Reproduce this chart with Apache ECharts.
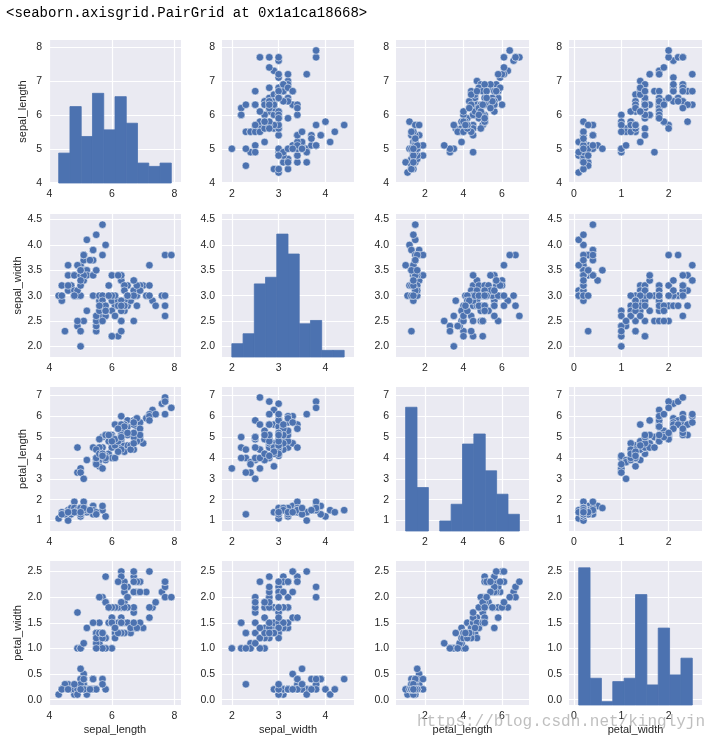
<!DOCTYPE html>
<html><head><meta charset="utf-8">
<script src="https://cdn.jsdelivr.net/npm/echarts@6/dist/echarts.min.js"></script>
<style>html,body{margin:0;padding:0;background:#fff}#c{width:721px;height:744px}</style>
</head><body><div id="c"></div>
<script>
const varNames = ['sepal_length','sepal_width','petal_length','petal_width'];

const sepal_length = [5.1,4.9,4.7,4.6,5.0,5.4,4.6,5.0,4.4,4.9,5.4,4.8,4.8,4.3,5.8,5.7,5.4,5.1,5.7,5.1,5.4,5.1,4.6,5.1,4.8,5.0,5.0,5.2,5.2,4.7,4.8,5.4,5.2,5.5,4.9,5.0,5.5,4.9,4.4,5.1,5.0,4.5,4.4,5.0,5.1,4.8,5.1,4.6,5.3,5.0,
7.0,6.4,6.9,5.5,6.5,5.7,6.3,4.9,6.6,5.2,5.0,5.9,6.0,6.1,5.6,6.7,5.6,5.8,6.2,5.6,5.9,6.1,6.3,6.1,6.4,6.6,6.8,6.7,6.0,5.7,5.5,5.5,5.8,6.0,5.4,6.0,6.7,6.3,5.6,5.5,5.5,6.1,5.8,5.0,5.6,5.7,5.7,6.2,5.1,5.7,
6.3,5.8,7.1,6.3,6.5,7.6,4.9,7.3,6.7,7.2,6.5,6.4,6.8,5.7,5.8,6.4,6.5,7.7,7.7,6.0,6.9,5.6,7.7,6.3,6.7,7.2,6.2,6.1,6.4,7.2,7.4,7.9,6.4,6.3,6.1,7.7,6.3,6.4,6.0,6.9,6.7,6.9,5.8,6.8,6.7,6.7,6.3,6.5,6.2,5.9];
const sepal_width = [3.5,3.0,3.2,3.1,3.6,3.9,3.4,3.4,2.9,3.1,3.7,3.4,3.0,3.0,4.0,4.4,3.9,3.5,3.8,3.8,3.4,3.7,3.6,3.3,3.4,3.0,3.4,3.5,3.4,3.2,3.1,3.4,4.1,4.2,3.1,3.2,3.5,3.6,3.0,3.4,3.5,2.3,3.2,3.5,3.8,3.0,3.8,3.2,3.7,3.3,
3.2,3.2,3.1,2.3,2.8,2.8,3.3,2.4,2.9,2.7,2.0,3.0,2.2,2.9,2.9,3.1,3.0,2.7,2.2,2.5,3.2,2.8,2.5,2.8,2.9,3.0,2.8,3.0,2.9,2.6,2.4,2.4,2.7,2.7,3.0,3.4,3.1,2.3,3.0,2.5,2.6,3.0,2.6,2.3,2.7,3.0,2.9,2.9,2.5,2.8,
3.3,2.7,3.0,2.9,3.0,3.0,2.5,2.9,2.5,3.6,3.2,2.7,3.0,2.5,2.8,3.2,3.0,3.8,2.6,2.2,3.2,2.8,2.8,2.7,3.3,3.2,2.8,3.0,2.8,3.0,2.8,3.8,2.8,2.8,2.6,3.0,3.4,3.1,3.0,3.1,3.1,3.1,2.7,3.2,3.3,3.0,2.5,3.0,3.4,3.0];
const petal_length = [1.4,1.4,1.3,1.5,1.4,1.7,1.4,1.5,1.4,1.5,1.5,1.6,1.4,1.1,1.2,1.5,1.3,1.4,1.7,1.5,1.7,1.5,1.0,1.7,1.9,1.6,1.6,1.5,1.4,1.6,1.6,1.5,1.5,1.4,1.5,1.2,1.3,1.4,1.3,1.5,1.3,1.3,1.3,1.6,1.9,1.4,1.6,1.4,1.5,1.4,
4.7,4.5,4.9,4.0,4.6,4.5,4.7,3.3,4.6,3.9,3.5,4.2,4.0,4.7,3.6,4.4,4.5,4.1,4.5,3.9,4.8,4.0,4.9,4.7,4.3,4.4,4.8,5.0,4.5,3.5,3.8,3.7,3.9,5.1,4.5,4.5,4.7,4.4,4.1,4.0,4.4,4.6,4.0,3.3,4.2,4.2,4.2,4.3,3.0,4.1,
6.0,5.1,5.9,5.6,5.8,6.6,4.5,6.3,5.8,6.1,5.1,5.3,5.5,5.0,5.1,5.3,5.5,6.7,6.9,5.0,5.7,4.9,6.7,4.9,5.7,6.0,4.8,4.9,5.6,5.8,6.1,6.4,5.6,5.1,5.6,6.1,5.6,5.5,4.8,5.4,5.6,5.1,5.1,5.9,5.7,5.2,5.0,5.2,5.4,5.1];
const petal_width = [0.2,0.2,0.2,0.2,0.2,0.4,0.3,0.2,0.2,0.1,0.2,0.2,0.1,0.1,0.2,0.4,0.4,0.3,0.3,0.3,0.2,0.4,0.2,0.5,0.2,0.2,0.4,0.2,0.2,0.2,0.2,0.4,0.1,0.2,0.2,0.2,0.2,0.1,0.2,0.2,0.3,0.3,0.2,0.6,0.4,0.3,0.2,0.2,0.2,0.2,
1.4,1.5,1.5,1.3,1.5,1.3,1.6,1.0,1.3,1.4,1.0,1.5,1.0,1.4,1.3,1.4,1.5,1.0,1.5,1.1,1.8,1.3,1.5,1.2,1.3,1.4,1.4,1.7,1.5,1.0,1.1,1.0,1.2,1.6,1.5,1.6,1.5,1.3,1.3,1.3,1.2,1.4,1.2,1.0,1.3,1.2,1.3,1.3,1.1,1.3,
2.5,1.9,2.1,1.8,2.2,2.1,1.7,1.8,1.8,2.5,2.0,1.9,2.1,2.0,2.4,2.3,1.8,2.2,2.3,1.5,2.3,2.0,2.0,1.8,2.1,1.8,1.8,1.8,2.1,1.6,1.9,2.0,2.2,1.5,1.4,2.3,2.4,1.8,1.8,2.1,2.4,2.3,1.9,2.3,2.5,2.3,1.9,2.0,2.3,1.8];

// histogram counts (10 equal bins from min to max)
const hist_sepal_length = [9,23,14,27,16,26,18,6,5,6];
const hist_sepal_width  = [4,7,22,24,37,31,10,11,2,2];
const hist_petal_length = [37,13,0,3,8,26,29,18,11,5];
const hist_petal_width  = [41,8,1,7,8,33,6,23,9,14];

// tick labels
const xTicks_sepal_length = [4,6,8];
const yTicks_sepal_length = [4,5,6,7,8];
const xTicks_sepal_width = [2,3,4];
const yTicks_sepal_width = [2.0,2.5,3.0,3.5,4.0,4.5];
const xTicks_petal_length = [2,4,6];
const yTicks_petal_length = [1,2,3,4,5,6,7];
const xTicks_petal_width = [0,1,2];
const yTicks_petal_width = [0.0,0.5,1.0,1.5,2.0,2.5];

const values = [sepal_length, sepal_width, petal_length, petal_width];
const hists = [hist_sepal_length, hist_sepal_width, hist_petal_length, hist_petal_width];
const xTicks = [xTicks_sepal_length, xTicks_sepal_width, xTicks_petal_length, xTicks_petal_width];
const yTicks = [yTicks_sepal_length, yTicks_sepal_width, yTicks_petal_length, yTicks_petal_width];
const yDec = [0,1,0,1];

// layout / style
const limits = [[3.99,8.21],[1.79,4.61],[0.5,7.4],[-0.105,2.705]];
const colLeft = [49,222,396,569], colW = [132,132,133,133];
const rowTop = [40,214,387,561], rowH = [143,143,144,144];
const histMax = 43.05;
const BLUE = '#4C72B0';
const FONT = 'Liberation Sans, Arial, sans-serif';
const TXT = '#262626';

const grid = [], xAxis = [], yAxis = [], series = [];
for (let i = 0; i < 4; i++) {
  for (let j = 0; j < 4; j++) {
    const g = grid.length;
    grid.push({left: colLeft[j], top: rowTop[i], width: colW[j], height: rowH[i],
      show: true, backgroundColor: '#EAEAF2', borderWidth: 0, containLabel: false});
    xAxis.push({gridIndex: g, type: 'value', min: limits[j][0], max: limits[j][1],
      name: i === 3 ? varNames[j] : '', nameLocation: 'middle', nameGap: 19,
      nameTextStyle: {fontFamily: FONT, fontSize: 11, color: TXT},
      axisLine: {show: false}, axisTick: {show: false, customValues: xTicks[j]},
      axisLabel: {customValues: xTicks[j], margin: 6, fontFamily: FONT, fontSize: 10.5, color: TXT,
        formatter: v => String(Math.round(v))},
      splitLine: {show: true, lineStyle: {color: '#ffffff', width: 1.2}}});
    const yi = yAxis.length;
    yAxis.push({gridIndex: g, type: 'value', min: limits[i][0], max: limits[i][1],
      name: j === 0 ? varNames[i] : '', nameLocation: 'middle', nameGap: 21, nameRotate: 90,
      nameTextStyle: {fontFamily: FONT, fontSize: 11, color: TXT},
      axisLine: {show: false}, axisTick: {show: false, customValues: yTicks[i]},
      axisLabel: {customValues: yTicks[i], margin: 7, fontFamily: FONT, fontSize: 10.5, color: TXT,
        formatter: (d => (v => v.toFixed(d)))(yDec[i])},
      splitLine: {show: true, lineStyle: {color: '#ffffff', width: 1.2}}});
    if (i === j) {
      const ti = yAxis.length;
      yAxis.push({gridIndex: g, type: 'value', min: 0, max: histMax, show: false, position: 'right',
        splitLine: {show: false}});
      const vals = values[j];
      const lo = Math.min(...vals), hi = Math.max(...vals);
      const w = (hi - lo) / hists[j].length;
      const data = hists[j].map((c, k) => [lo + k * w, lo + (k + 1) * w, c]);
      series.push({type: 'custom', xAxisIndex: g, yAxisIndex: ti, data: data,
        encode: {x: [0, 1], y: 2}, z: 3,
        renderItem: function (params, api) {
          if (api.value(2) <= 0) return null;
          const a = api.coord([api.value(0), 0]);
          const b = api.coord([api.value(1), api.value(2)]);
          return {type: 'rect', shape: {x: a[0], y: b[1], width: b[0] - a[0], height: a[1] - b[1]},
            style: {fill: BLUE, stroke: BLUE, lineWidth: 0.8}};
        }});
    } else {
      const xs = values[j], ys = values[i];
      series.push({type: 'scatter', xAxisIndex: g, yAxisIndex: yi,
        data: xs.map((v, k) => [v, ys[k]]), symbolSize: 7.5, z: 3,
        itemStyle: {color: BLUE, borderColor: '#ffffff', borderWidth: 0.5, opacity: 1},
        emphasis: {disabled: true}});
    }
  }
}

const chart = echarts.init(document.getElementById('c'), null, {renderer: 'canvas'});
chart.setOption({
  animation: false,
  backgroundColor: '#ffffff',
  grid, xAxis, yAxis, series,
  graphic: [
    {type: 'text', left: 6, top: 6, z: 10,
      style: {text: '<seaborn.axisgrid.PairGrid at 0x1a1ca18668>', font: '14px "Liberation Mono", monospace', fill: '#000'}},
    {type: 'text', left: 417, top: 714, z: 20,
      style: {text: 'https://blog.csdn.net/kinglyjn', font: '16px "Liberation Mono", monospace', fill: 'rgba(170,170,170,0.75)'}}
  ]
});
</script>
</body></html>
